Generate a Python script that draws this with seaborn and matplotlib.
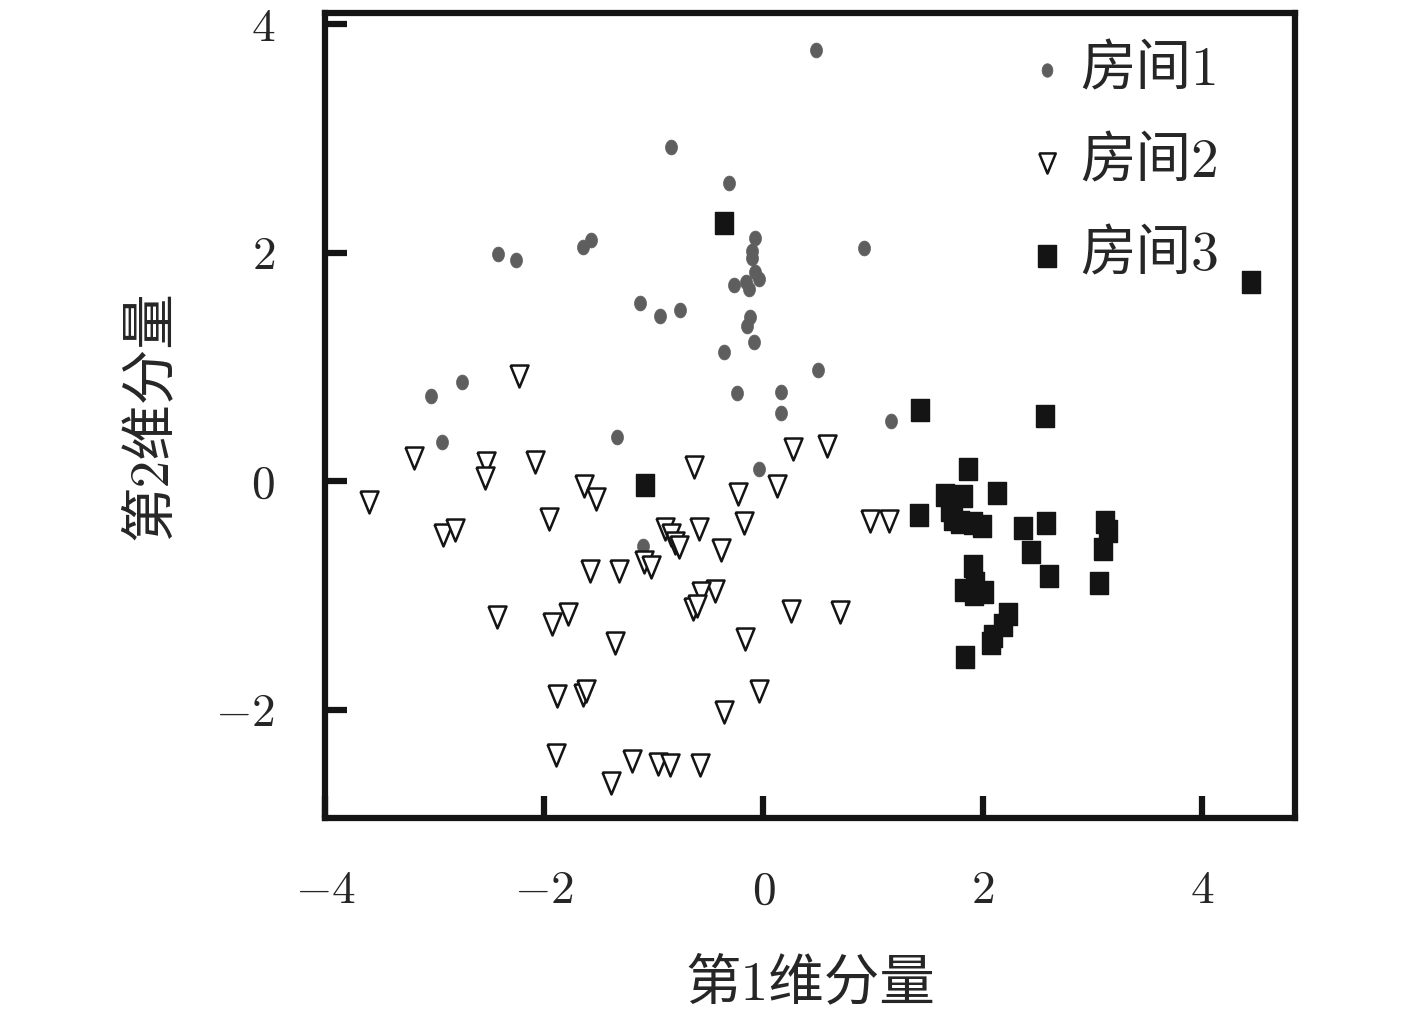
import numpy as np
import pandas as pd
import matplotlib
matplotlib.use("Agg")
import matplotlib.pyplot as plt
import seaborn as sns

# 数据: 三个房间的降维结果 (第1维, 第2维)
room1_x = [0.48, -0.84, -0.31, -0.08, -0.10, -0.10, -0.08, -0.04, -0.27, -0.16, -0.13,
           -0.12, -0.15, -0.09, -0.36, -2.42, -2.26, -1.65, -1.57, -1.13, -0.94, -0.76,
           -2.75, -3.03, -0.24, 0.16, 0.16, 0.50, 0.92, 1.16, -2.93, -1.34, -0.04, -1.10]
room1_y = [3.78, 2.93, 2.61, 2.13, 2.02, 1.95, 1.83, 1.77, 1.72, 1.74, 1.68,
           1.44, 1.36, 1.22, 1.13, 1.99, 1.94, 2.05, 2.11, 1.56, 1.45, 1.50,
           0.87, 0.75, 0.77, 0.78, 0.60, 0.97, 2.04, 0.53, 0.34, 0.39, 0.11, -0.57]

room2_x = [-2.23, -3.60, -3.19, -2.53, -2.54, -2.08, -1.64, -1.53, -1.96, -2.92, -2.81,
           -0.63, -0.23, 0.12, 0.27, 0.58, -0.18, -0.90, -0.84, -0.81, -0.77, -0.59,
           -0.39, -1.09, -1.03, -1.58, -1.32, -0.44, -0.57, -0.64, -0.61, 0.25, 0.70,
           -2.43, -1.93, -1.78, -1.35, -0.17, -1.88, -1.65, -1.62, -0.04, -0.36, -1.89,
           -1.39, -1.20, -0.96, -0.85, -0.58, 0.97, 1.15]
room2_y = [0.92, -0.18, 0.20, 0.16, 0.03, 0.17, -0.04, -0.16, -0.33, -0.47, -0.43,
           0.12, -0.11, -0.04, 0.28, 0.31, -0.37, -0.42, -0.47, -0.54, -0.58, -0.42,
           -0.60, -0.71, -0.75, -0.79, -0.79, -0.96, -0.98, -1.12, -1.09, -1.14, -1.15,
           -1.19, -1.25, -1.16, -1.42, -1.38, -1.88, -1.87, -1.84, -1.84, -2.02, -2.40,
           -2.64, -2.45, -2.48, -2.49, -2.49, -0.35, -0.35]

room3_x = [-0.36, 4.45, -1.08, 1.43, 2.57, 1.87, 1.66, 1.82, 2.13, 1.42, 1.73, 1.79,
           1.91, 1.99, 2.37, 2.58, 2.44, 2.61, 3.12, 3.14, 3.10, 3.06, 1.91, 1.93,
           1.83, 1.92, 2.01, 2.23, 2.19, 2.09, 2.08, 1.84, 1.70]
room3_y = [2.26, 1.74, -0.03, 0.62, 0.57, 0.11, -0.12, -0.13, -0.10, -0.30, -0.33, -0.36,
           -0.37, -0.39, -0.41, -0.37, -0.62, -0.83, -0.36, -0.44, -0.59, -0.89, -0.74, -0.89,
           -0.95, -0.99, -0.97, -1.16, -1.26, -1.36, -1.42, -1.54, -0.25]

labels = ["房间1", "房间2", "房间3"]
xticks = [-4, -2, 0, 2, 4]
yticks = [-2, 0, 2, 4]

sns.set_style("white")
plt.rcParams["font.family"] = ["cmr10", "Noto Sans CJK SC"]
plt.rcParams["mathtext.fontset"] = "cm"
plt.rcParams["axes.formatter.use_mathtext"] = True

# 略微拉长的标记形状
t = np.linspace(0, 2 * np.pi, 41)
ellipse = np.column_stack([0.8 * np.cos(t), np.sin(t)])
tri = [(-0.82, 1.0), (0.82, 1.0), (0.0, -1.0), (-0.82, 1.0)]
rect = [(-0.78, -1.0), (0.78, -1.0), (0.78, 1.0), (-0.78, 1.0), (-0.78, -1.0)]

fig = plt.figure(figsize=(14.17, 10.16), dpi=100)
ax = fig.add_axes([0.2294, 0.1949, 0.6845, 0.7923])

sns.scatterplot(x=room1_x, y=room1_y, ax=ax, marker=ellipse, s=115,
                color="#5e5e5e", edgecolor="#5e5e5e", linewidth=0.5, label=labels[0])
sns.scatterplot(x=room2_x, y=room2_y, ax=ax, marker=tri, s=250,
                color="white", edgecolor="#141414", linewidth=1.8, label=labels[1])
sns.scatterplot(x=room3_x, y=room3_y, ax=ax, marker=rect, s=250,
                color="#141414", edgecolor="#141414", linewidth=1.0, label=labels[2])

ax.set_xlim(-4.0, 4.85)
ax.set_ylim(-2.95, 4.1)
ax.set_xticks(xticks)
ax.set_yticks(yticks)
ax.tick_params(direction="in", length=16, width=4.5, labelsize=34, color="#141414",
               bottom=True, left=True, top=False, right=False)
ax.tick_params(axis="x", pad=38)
ax.tick_params(axis="y", pad=36)
for sp in ax.spines.values():
    sp.set_linewidth(4.5)
    sp.set_color("#141414")

ax.set_xlabel("第1维分量", fontsize=40, labelpad=33)
ax.set_ylabel("第2维分量", fontsize=40, labelpad=28)

leg = ax.legend(loc="upper left", bbox_to_anchor=(0.693, 0.988), frameon=False,
                fontsize=40, handlelength=1.0, handletextpad=0.1,
                labelspacing=0.75, borderaxespad=0.0)
for h, sz in zip(leg.legend_handles, [95, 210, 250]):
    h.set_sizes([sz])

fig.savefig("out.png", dpi=100, facecolor="white")
